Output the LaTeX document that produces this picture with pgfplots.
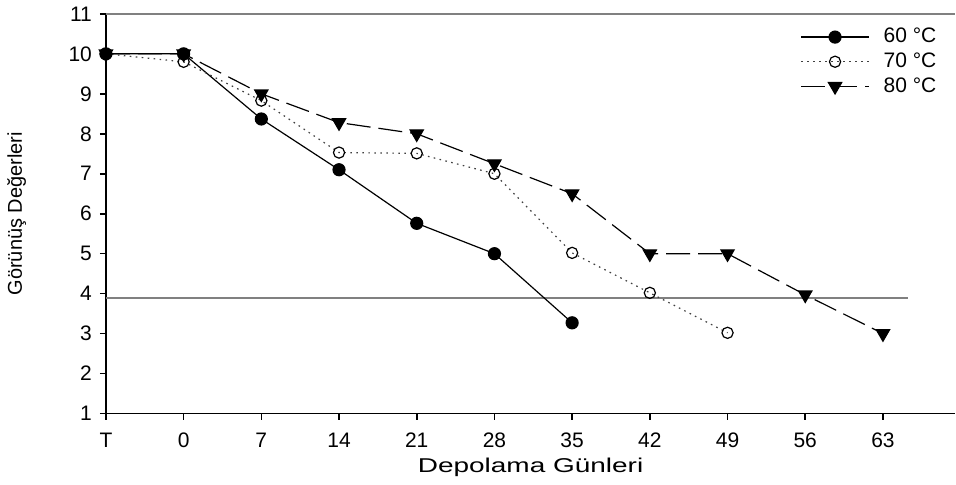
\documentclass[border=0pt]{standalone}
\usepackage{fontspec}
\setmainfont{Liberation Sans}
\usepackage{pgfplots}
\pgfplotsset{compat=1.18}

\begin{document}
\begin{tikzpicture}
\begin{axis}[
    scale only axis,
    width=425pt, height=200pt,
    xmin=0, xmax=10.93,
    ymin=1, ymax=11,
    axis lines*=left,
    axis line style={line width=0.8pt},
    tick style={black, line width=0.8pt},
    tick align=outside,
    major tick length=3pt,
    xtick={0,...,10},
    xticklabels={T,0,7,14,21,28,35,42,49,56,63},
    ytick={1,...,11},
    /pgf/number format/assume math mode=true,
    tick label style={font=\fontsize{10.5}{12}\selectfont},
    xticklabel style={yshift=-3pt},
    yticklabel style={xshift=-0.5pt},
    xlabel={Depolama Günleri},
    ylabel={Görünüş Değerleri},
    xlabel style={at={(axis description cs:0.5,-0.135)}, anchor=center,
        font=\fontsize{10}{12}\selectfont, xscale=1.4},
    ylabel style={at={(axis description cs:-0.105,0.5)}, anchor=center,
        font=\fontsize{10}{12}\selectfont},
    legend style={at={(rel axis cs:0.99,0.985)}, anchor=north east,
        draw=none, fill=none, font=\fontsize{10.5}{12}\selectfont,
        row sep=-0.5pt,
        /tikz/every odd column/.append style={column sep=5pt}},
    legend cell align=left,
    legend image code/.code={
        \draw[mark repeat=2, mark phase=2, #1]
            plot coordinates {(0pt,0pt) (17pt,0pt) (34pt,0pt)};
    },
    clip=false,
]
% reference line
\addplot[gray, line width=0.9pt, forget plot] coordinates {(0,3.9) (10.32,3.9)};

\addplot[black, line width=0.6pt, mark=*, mark size=3pt] coordinates {
    (0,10) (1,10) (2,8.37) (3,7.1) (4,5.76) (5,5.0) (6,3.27)
};
\addplot[black!75, line width=0.6pt, dash pattern=on 0.8pt off 2.2pt,
    mark=o, mark size=2.8pt, mark options={solid, black, fill=white, line width=0.6pt}] coordinates {
    (0,10) (1,9.8) (2,8.83) (3,7.53) (4,7.51) (5,7.0) (6,5.02) (7,4.02) (8,3.02)
};
\addplot[black, line width=0.6pt, dash pattern=on 12pt off 4pt,
    mark=triangle*, mark size=3.8pt, mark options={solid, rotate=180}] coordinates {
    (0,10) (1,10) (2,9.0) (3,8.28) (4,8.0) (5,7.25) (6,6.5) (7,5.0) (8,5.0) (9,3.97) (10,3.0)
};
\legend{60 °C, 70 °C, 80 °C}

% top frame line
\draw[gray, line width=0.8pt] (rel axis cs:0,1) -- (rel axis cs:1,1);
% page extent
\path (rel axis cs:0,0) ++(-53pt,-35.5pt);
\path (rel axis cs:1,1) ++(0,6pt);
\end{axis}
\end{tikzpicture}
\end{document}
